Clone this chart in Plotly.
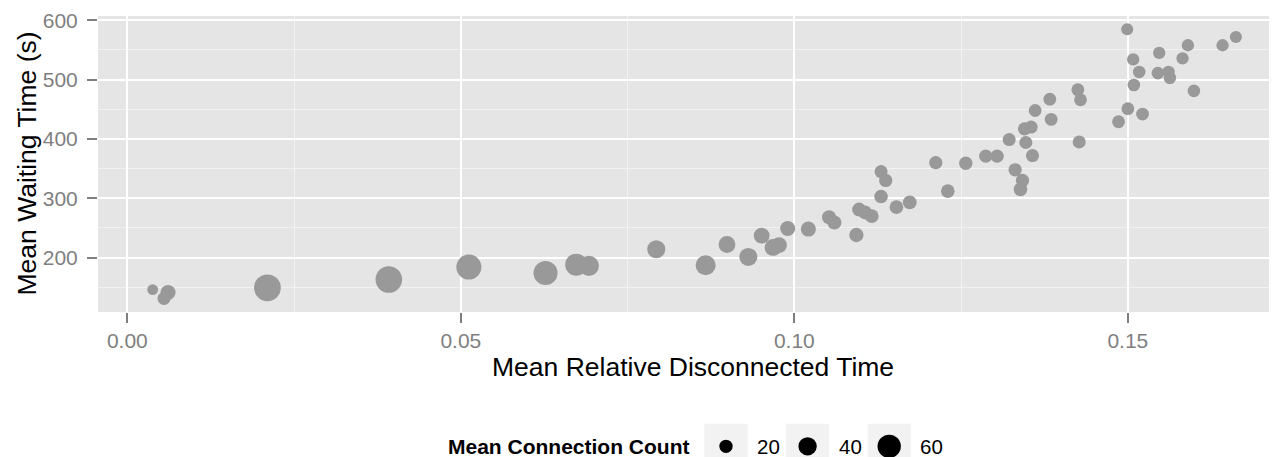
import plotly.graph_objects as go

# ---- data ----
rel_disconnected = [0.0038, 0.0055, 0.0061, 0.0210, 0.0392, 0.0512, 0.0627, 0.0673, 0.0692, 0.0793,
                    0.0867, 0.0899, 0.0931, 0.0951, 0.0968, 0.0977, 0.0990, 0.1021, 0.1052, 0.1060,
                    0.1093, 0.1097, 0.1106, 0.1116, 0.1130, 0.1137, 0.1130, 0.1153, 0.1173, 0.1212,
                    0.1230, 0.1257, 0.1287, 0.1304, 0.1322, 0.1331, 0.1342, 0.1339, 0.1347, 0.1345,
                    0.1355, 0.1357, 0.1361, 0.1383, 0.1385, 0.1425, 0.1429, 0.1427, 0.1486, 0.1500,
                    0.1499, 0.1508, 0.1509, 0.1517, 0.1522, 0.1547, 0.1545, 0.1561, 0.1563, 0.1582,
                    0.1590, 0.1599, 0.1642, 0.1662]
waiting_time = [146, 131, 141, 149, 163, 184, 174, 188, 186, 214,
                187, 222, 201, 237, 217, 221, 249, 248, 268, 259,
                238, 281, 276, 270, 345, 330, 303, 285, 293, 360,
                312, 359, 371, 371, 399, 348, 330, 315, 394, 417,
                420, 372, 448, 467, 433, 483, 466, 395, 429, 451,
                585, 534, 491, 513, 442, 545, 511, 513, 503, 536,
                558, 481, 558, 572]
connection_count = [10, 19, 27, 74, 73, 67, 63, 55, 47, 39,
                    47, 34, 39, 30, 34, 30, 27, 27, 23, 23,
                    24, 22, 22, 22, 19, 20, 21, 21, 22, 20,
                    21, 20, 20, 20, 19, 20, 20, 21, 19, 19,
                    19, 19, 18, 18, 18, 18, 18, 19, 18, 18,
                    15, 16, 17, 17, 18, 16, 17, 17, 17, 16,
                    16, 17, 16, 15]
legend_counts = [20, 40, 60]
x_ticks = [0.0, 0.05, 0.10, 0.15]
y_ticks = [200, 300, 400, 500, 600]
x_title = "Mean Relative Disconnected Time"
y_title = "Mean Waiting Time (s)"
legend_title = "Mean Connection Count"


def size_of(c):
    # size scale (diameter in px) for connection count
    return 8.3 + 0.25 * c


FONT = "Liberation Sans, Arial, Helvetica, sans-serif"
WIN_W, WIN_H = 1277, 457
BODY = 8  # default page margin around the plot div
W, H = WIN_W - BODY, WIN_H - BODY
# layout measured in window pixels
PANEL_L, PANEL_T, PANEL_B = 98, 16, 312
M_T, M_B, M_L, M_R = PANEL_T - BODY, 0, PANEL_L - BODY, 0
plot_w = W - M_L - M_R
plot_h = H - M_T - M_B


def paper_x(px):
    return (px - BODY - M_L) / plot_w


def paper_y(py):
    return (H - M_B - (py - BODY)) / plot_h


y_dom0 = paper_y(PANEL_B)
LEG_CY = 446.3
leg_dom = [paper_y(LEG_CY + 10), paper_y(LEG_CY - 10)]

fig = go.Figure()
fig.add_trace(go.Scatter(
    x=rel_disconnected, y=waiting_time, mode="markers",
    marker=dict(size=[size_of(c) for c in connection_count], color="#999999",
                line=dict(width=0), opacity=1),
    showlegend=False, hoverinfo="x+y+text",
    text=[f"count {c}" for c in connection_count],
))

# manual size legend on its own axes
leg_idx = list(range(len(legend_counts)))
fig.add_trace(go.Scatter(
    x=leg_idx, y=[0] * len(leg_idx), xaxis="x2", yaxis="y2", mode="markers",
    marker=dict(size=[size_of(c) for c in legend_counts], color="#000000",
                line=dict(width=0), opacity=1),
    showlegend=False, hoverinfo="skip", cliponaxis=False,
))

px_per_key = 81.6
key0_px = 726
r0 = -(key0_px - PANEL_L) / px_per_key
r1 = r0 + plot_w / px_per_key
half_box = 21.6 / px_per_key

shapes = [dict(type="rect", xref="x domain", yref="y domain", x0=0, x1=1, y0=0, y1=1,
               fillcolor="#E5E5E5", line=dict(width=0), layer="below")]
for i in leg_idx:
    shapes.append(dict(type="rect", xref="x2", yref="paper", x0=i - half_box, x1=i + half_box,
                       y0=paper_y(470), y1=paper_y(423.7), fillcolor="#F2F2F2",
                       line=dict(width=0), layer="below"))

annotations = []
for i, c in zip(leg_idx, legend_counts):
    annotations.append(dict(x=i + 29 / px_per_key, y=0, xref="x2", yref="y2", text=str(c),
                            showarrow=False, xanchor="left", yanchor="middle",
                            font=dict(family=FONT, size=20.5, color="black")))
annotations.append(dict(x=(691 - key0_px) / px_per_key, y=0, xref="x2", yref="y2",
                        text=f"<b>{legend_title}</b>", showarrow=False,
                        xanchor="right", yanchor="middle",
                        font=dict(family=FONT, size=21, color="black")))
annotations.append(dict(x=paper_x(693), y=paper_y(367), xref="paper", yref="paper", text=x_title,
                        showarrow=False, xanchor="center", yanchor="middle",
                        font=dict(family=FONT, size=26.5, color="black")))
annotations.append(dict(x=paper_x(26), y=paper_y(163.5), xref="paper", yref="paper", text=y_title,
                        showarrow=False, xanchor="center", yanchor="middle", textangle=-90,
                        font=dict(family=FONT, size=26.5, color="black")))

fig.update_layout(
    width=W, height=H,
    margin=dict(t=M_T, b=M_B, l=M_L, r=M_R, pad=0, autoexpand=False),
    paper_bgcolor="white",
    plot_bgcolor="white",
    font=dict(family=FONT),
    xaxis=dict(
        range=[-0.0044, 0.17236], domain=[0, 1], anchor="y", automargin=False,
        tickvals=x_ticks, ticktext=[f"{v:.2f}" for v in x_ticks],
        showgrid=True, gridcolor="white", gridwidth=2, zeroline=False, showline=False,
        ticks="outside", ticklen=10, tickwidth=2, tickcolor="#7F7F7F",
        tickfont=dict(family=FONT, size=21, color="#7F7F7F"),
        minor=dict(dtick=0.025, tick0=0, showgrid=True, gridcolor="#F2F2F2", gridwidth=1, ticks=""),
    ),
    yaxis=dict(
        range=[108.2, 607.3], domain=[y_dom0, 1], anchor="x", automargin=False,
        tickvals=y_ticks, ticktext=[str(v) for v in y_ticks],
        showgrid=True, gridcolor="white", gridwidth=2, zeroline=False, showline=False,
        ticks="outside", ticklen=10, tickwidth=2, tickcolor="#7F7F7F",
        tickfont=dict(family=FONT, size=21, color="#7F7F7F"), ticklabelstandoff=5,
        minor=dict(dtick=50, tick0=0, showgrid=True, gridcolor="#F2F2F2", gridwidth=1, ticks=""),
    ),
    xaxis2=dict(range=[r0, r1], domain=[0, 1], anchor="y2", visible=False, fixedrange=True),
    yaxis2=dict(range=[-1, 1], domain=leg_dom, anchor="x2", visible=False, fixedrange=True),
    shapes=shapes,
    annotations=annotations,
    showlegend=False,
)

fig.write_html("out.html")
